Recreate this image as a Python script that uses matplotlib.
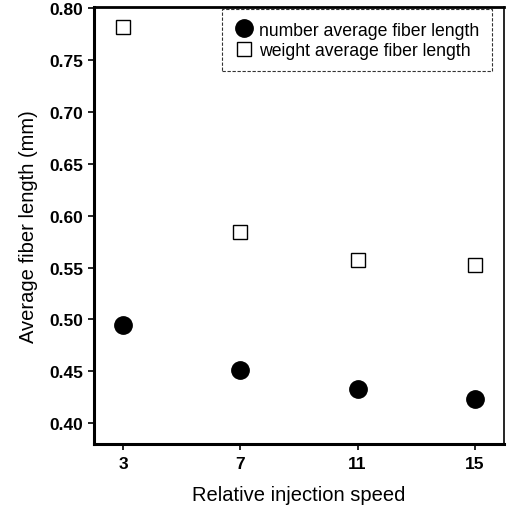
import matplotlib

matplotlib.use("Agg")
import matplotlib.pyplot as plt

plt.rcParams["font.family"] = ["Liberation Sans", "DejaVu Sans"]

speed = [3, 7, 11, 15]
number_avg = [0.495, 0.451, 0.433, 0.423]
weight_avg = [0.782, 0.584, 0.557, 0.552]
y_ticks = [0.40, 0.45, 0.50, 0.55, 0.60, 0.65, 0.70, 0.75, 0.80]

fig = plt.figure(figsize=(5.08, 5.06), dpi=100)
ax = fig.add_axes([0.185, 0.1206, 0.807, 0.8636])

ax.plot(speed, number_avg, "o", color="black", markersize=12.5, linestyle="none",
        label="number average fiber length")
ax.plot(speed, weight_avg, "s", markerfacecolor="white", markeredgecolor="black",
        markeredgewidth=1.0, markersize=10, linestyle="none",
        label="weight average fiber length")

ax.set_xlim(2, 16)
ax.set_ylim(0.38, 0.801)
ax.set_xticks(speed)
ax.set_yticks(y_ticks)
ax.set_yticklabels([f"{v:.2f}" for v in y_ticks])
ax.tick_params(direction="out", length=4, width=1.2, labelsize=12.5)
ax.tick_params(axis="x", pad=5)
for lab in ax.get_xticklabels() + ax.get_yticklabels():
    lab.set_fontweight("bold")

for side, lw in {"left": 2.2, "bottom": 2.2, "top": 2.0, "right": 1.2}.items():
    ax.spines[side].set_linewidth(lw)

ax.set_xlabel("Relative injection speed", fontsize=14.5, labelpad=10)
ax.set_ylabel("Average fiber length (mm)", fontsize=14.5, labelpad=8)

leg = ax.legend(loc="upper right", bbox_to_anchor=(0.971, 0.995), fontsize=12.7,
                frameon=True, fancybox=False, borderaxespad=0, handletextpad=0.4,
                handlelength=1.0, labelspacing=0.2, borderpad=0.7)
frame = leg.get_frame()
frame.set_edgecolor("black")
frame.set_linewidth(0.8)
frame.set_linestyle((0, (3, 1.5)))

fig.savefig("out.png", dpi=100)
